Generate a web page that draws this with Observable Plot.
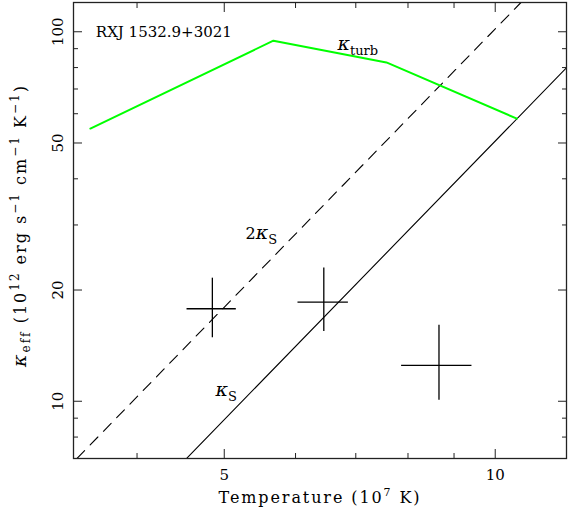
<!DOCTYPE html>
<html>
<head>
<meta charset="utf-8">
<script src="https://cdn.jsdelivr.net/npm/d3@7"></script>
<script src="https://cdn.jsdelivr.net/npm/@observablehq/plot@0.6"></script>
<style>
  html, body { margin: 0; padding: 0; background: #fff; }
  svg { display: block; }
</style>
</head>
<body>
<div id="chart"></div>
<script>
// ---- data (log-log axes) ----
const turbT = [3.55, 5.67, 7.57, 10.57];          // kappa_turb curve, temperature (1e7 K)
const turbK = [54.7, 94.6, 82.6, 58.2];           // kappa_turb (1e12 erg/s/cm/K)
const spitzerT = [4.54, 12.0];                     // kappa_S line end points
const spitzerK = [7.0, 79.9];
const twoSpitzerT = [3.43, 10.68];                 // 2 kappa_S line end points
const twoSpitzerK = [7.0, 120];
const obsT   = [4.85, 6.45, 8.66];                 // measured points
const obsTlo = [4.54, 6.03, 7.86];
const obsThi = [5.15, 6.86, 9.41];
const obsK   = [17.8, 18.55, 12.5];
const obsKlo = [14.9, 15.5, 10.1];
const obsKhi = [21.6, 23.0, 16.1];
const xTicks = [5, 10];
const xMinorTicks = [4, 6, 7, 8, 9];
const yTicks = [10, 20, 50, 100];
const yMinorTicks = [8, 9, 30, 40, 60, 70, 80, 90];
const sourceName = "RXJ 1532.9+3021";

const turb = turbT.map((t, i) => ({t, k: turbK[i]}));
const spitzer = spitzerT.map((t, i) => ({t, k: spitzerK[i]}));
const twoSpitzer = twoSpitzerT.map((t, i) => ({t, k: twoSpitzerK[i]}));
const obs = obsT.map((t, i) => ({t, tlo: obsTlo[i], thi: obsThi[i], k: obsK[i], klo: obsKlo[i], khi: obsKhi[i]}));

const markup = {
  "§XL": 'Temperature (10<tspan dy="-7" font-size="11">7</tspan><tspan dy="7"> K)</tspan>',
  "§YL": '<tspan font-style="italic" font-size="19">κ</tspan><tspan dy="4" font-size="12">eff</tspan><tspan dy="-4"> (10</tspan><tspan dy="-7" font-size="12">12</tspan><tspan dy="7"> erg s</tspan><tspan dy="-7" font-size="12">−1</tspan><tspan dy="7"> cm</tspan><tspan dy="-7" font-size="12">−1</tspan><tspan dy="7"> K</tspan><tspan dy="-7" font-size="12">−1</tspan><tspan dy="7">)</tspan>',
  "§KT": '<tspan font-style="italic" font-size="19">κ</tspan><tspan dy="5" font-size="13">turb</tspan>',
  "§2KS": '2<tspan font-style="italic" font-size="19">κ</tspan><tspan dy="5" font-size="13">S</tspan>',
  "§KS": '<tspan font-style="italic" font-size="19">κ</tspan><tspan dy="5" font-size="13">S</tspan>'
};
const spacing = {"§XL": 1.9, "§YL": 2};

const axisColor = "#222";
const svg = Plot.plot({
  width: 568,
  height: 510,
  marginLeft: 73,
  marginRight: 2,
  marginTop: 2,
  marginBottom: 52,
  style: {fontFamily: "DejaVu Serif", fontSize: "15px", background: "#fff", color: "#000"},
  x: {type: "log", domain: [3.4, 12.0]},
  y: {type: "log", domain: [7.0, 120]},
  marks: [
    // ticks (inward, on all four sides)
    Plot.axisX(xTicks, {anchor: "bottom", tickSize: -9, fill: "none", stroke: axisColor, label: null}),
    Plot.axisX(xTicks, {anchor: "top", tickSize: -9, fill: "none", stroke: axisColor, label: null}),
    Plot.axisX(xMinorTicks, {anchor: "bottom", tickSize: -5, fill: "none", stroke: axisColor, label: null}),
    Plot.axisX(xMinorTicks, {anchor: "top", tickSize: -5, fill: "none", stroke: axisColor, label: null}),
    Plot.axisY(yTicks, {anchor: "left", tickSize: -9, fill: "none", stroke: axisColor, label: null}),
    Plot.axisY(yTicks, {anchor: "right", tickSize: -9, fill: "none", stroke: axisColor, label: null}),
    Plot.axisY(yMinorTicks, {anchor: "left", tickSize: -5, fill: "none", stroke: axisColor, label: null}),
    Plot.axisY(yMinorTicks, {anchor: "right", tickSize: -5, fill: "none", stroke: axisColor, label: null}),
    // tick labels
    Plot.axisX(xTicks, {anchor: "bottom", tickSize: 0, tickPadding: 11, tickFormat: d => `${d}`, label: null, fontSize: 15}),
    Plot.axisY(yTicks, {anchor: "left", tickSize: 0, tickPadding: 11, tickRotate: -90, tickFormat: d => `${d}`, label: null, fontSize: 15}),
    // axis titles
    Plot.text(["§XL"], {frameAnchor: "bottom", dy: 44, text: d => d, fontSize: 16}),
    Plot.text(["§YL"], {frameAnchor: "left", textAnchor: "middle", dx: -53, dy: -5, rotate: -90, text: d => d, fontSize: 16}),
    // model lines
    Plot.line(twoSpitzer, {x: "t", y: "k", stroke: "#000", strokeWidth: 1.1, strokeDasharray: "11,8", clip: true}),
    Plot.line(spitzer, {x: "t", y: "k", stroke: "#000", strokeWidth: 1.1, clip: true}),
    Plot.line(turb, {x: "t", y: "k", stroke: "#00ff00", strokeWidth: 2}),
    // data error crosses
    Plot.link(obs, {x1: "tlo", x2: "thi", y1: "k", y2: "k", stroke: "#000", strokeWidth: 1.3}),
    Plot.link(obs, {x1: "t", x2: "t", y1: "klo", y2: "khi", stroke: "#000", strokeWidth: 1.3}),
    // annotations
    Plot.text([sourceName], {x: 3.60, y: 100, text: d => d, textAnchor: "start", fontSize: 15}),
    Plot.text(["§KT"], {x: 6.68, y: 92, text: d => d, textAnchor: "start", fontSize: 16}),
    Plot.text(["§2KS"], {x: 5.28, y: 28.4, text: d => d, textAnchor: "start", fontSize: 16}),
    Plot.text(["§KS"], {x: 4.89, y: 10.7, text: d => d, textAnchor: "start", fontSize: 16}),
    Plot.frame({stroke: axisColor, strokeWidth: 1.3})
  ]
});

svg.querySelectorAll("text").forEach(t => {
  const key = t.textContent;
  if (markup[key]) {
    if (spacing[key]) t.setAttribute("letter-spacing", spacing[key]);
    t.innerHTML = markup[key];
  }
});

document.getElementById("chart").append(svg);
</script>
</body>
</html>
